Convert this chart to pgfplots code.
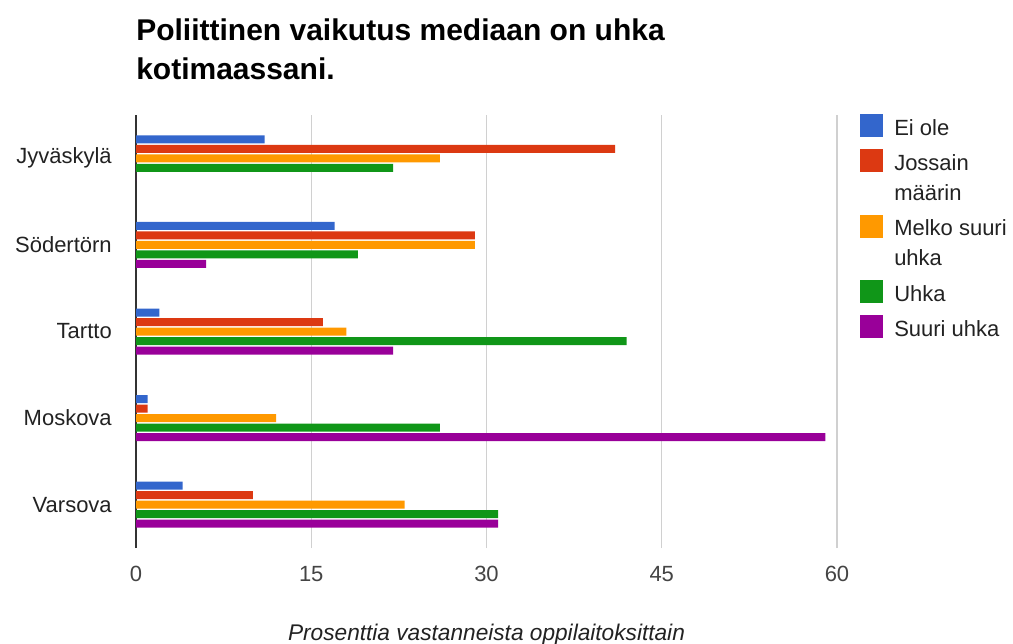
\documentclass[border=0pt]{standalone}
\usepackage{pgfplots}
\pgfplotsset{compat=1.18}
\usepackage{fontspec}
\setmainfont{Liberation Sans}
\definecolor{cBlue}{HTML}{3366CC}
\definecolor{cRed}{HTML}{DC3912}
\definecolor{cOrange}{HTML}{FF9900}
\definecolor{cGreen}{HTML}{109618}
\definecolor{cPurple}{HTML}{990099}
\definecolor{cText}{HTML}{222222}
\definecolor{cTick}{HTML}{444444}
\definecolor{cGrid}{HTML}{D0D0D0}
\definecolor{cAxis}{HTML}{333333}
\pgfplotsset{sq/.style={legend image code/.code={\fill[##1] (0pt,-13.5pt) rectangle (17.25pt,3.75pt);}}}
\begin{document}
\begin{tikzpicture}
\path[use as bounding box] (0,0) rectangle (759.75pt,482.25pt);
\node[anchor=base west, font=\bfseries\fontsize{22.5}{27}\selectfont, inner sep=0pt] at (102pt,451.5pt) {Poliittinen vaikutus mediaan on uhka};
\node[anchor=base west, font=\bfseries\fontsize{22.5}{27}\selectfont, inner sep=0pt] at (102pt,422.6pt) {kotimaassani.};
\begin{axis}[
  at={(102pt,71.25pt)}, anchor=south west,
  scale only axis, width=525.75pt, height=324.75pt,
  xbar, bar width=6pt,
  xmin=0, xmax=60, ymin=-0.5, ymax=4.5,
  xtick={15,30,45,60}, extra x ticks={0},
  extra x tick style={grid style={draw=cAxis, line width=1.1pt}},
  xmajorgrids, grid style={draw=cGrid, line width=1.1pt},
  major tick length=0pt,
  axis line style={draw=none},
  ytick={0,1,2,3,4}, yticklabels={Varsova,Moskova,Tartto,Södertörn,Jyväskylä},
  yticklabel style={anchor=east, inner sep=0pt, xshift=-18pt, font=\fontsize{16.5}{20}\selectfont, text=cText},
  xticklabel style={anchor=base, inner sep=0pt, yshift=-24.75pt, font=\fontsize{16.5}{20}\selectfont, text=cTick},
  /pgf/number format/assume math mode=true,
  xlabel={Prosenttia vastanneista oppilaitoksittain},
  xlabel style={at={(axis description cs:0.5,0)}, anchor=base, yshift=-69pt, inner sep=0pt, font=\itshape\fontsize{17}{20}\selectfont, text=cText},
  legend style={at={(1,1)}, anchor=north west, xshift=17.25pt, yshift=0.75pt, draw=none, fill=none, inner sep=0pt, row sep=9pt, column sep=8.25pt, font=\fontsize{16.5}{22.5}\selectfont, text=cText, nodes={inner sep=0pt}, cells={anchor=north west, align=left}},
]
\addplot[fill=cBlue, draw=none, bar shift=14.25pt, sq] coordinates {(11,4) (17,3) (2,2) (1,1) (4,0)};
\addlegendentry{Ei ole}
\addplot[fill=cRed, draw=none, bar shift=7.125pt, sq] coordinates {(41,4) (29,3) (16,2) (1,1) (10,0)};
\addlegendentry{Jossain\\määrin\rule[-3pt]{0pt}{3pt}}
\addplot[fill=cOrange, draw=none, bar shift=0pt, sq] coordinates {(26,4) (29,3) (18,2) (12,1) (23,0)};
\addlegendentry{Melko suuri\\uhka\rule[-3pt]{0pt}{3pt}}
\addplot[fill=cGreen, draw=none, bar shift=-7.125pt, sq] coordinates {(22,4) (19,3) (42,2) (26,1) (31,0)};
\addlegendentry{Uhka}
\addplot[fill=cPurple, draw=none, bar shift=-14.25pt, sq] coordinates {(0,4) (6,3) (22,2) (59,1) (31,0)};
\addlegendentry{Suuri uhka}
\end{axis}
\end{tikzpicture}
\end{document}
